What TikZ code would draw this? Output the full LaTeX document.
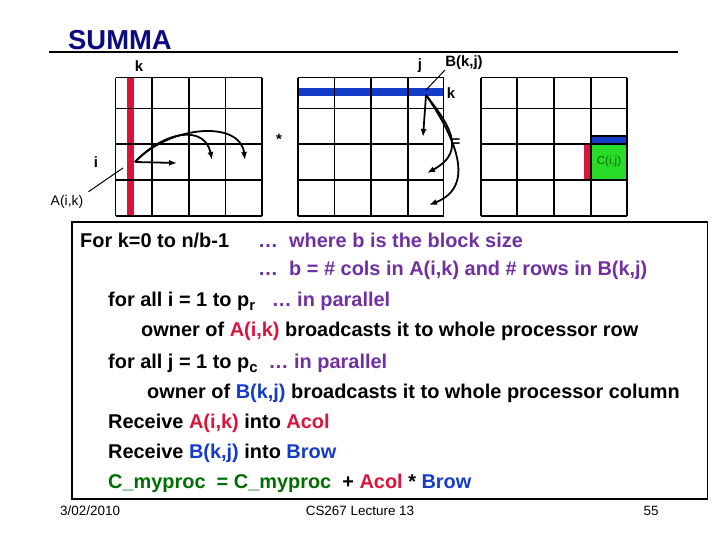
\documentclass[tikz,border=0pt]{standalone}
\usepackage{fontspec}
\usetikzlibrary{arrows.meta}
\setmainfont{Liberation Sans}
\definecolor{pur}{RGB}{112,48,160}
\definecolor{rd}{RGB}{220,20,60}
\definecolor{bl}{RGB}{20,60,200}
\definecolor{gr}{RGB}{0,110,0}
\definecolor{navy}{RGB}{10,10,130}
\definecolor{cgreen}{RGB}{40,220,40}
\begin{document}
\begin{tikzpicture}[x=1bp,y=-1bp,
  lbl/.style={inner sep=0pt,font=\bfseries\fontsize{15}{17}\selectfont},
  line/.style={anchor=west,inner sep=0pt,font=\bfseries\fontsize{20}{23}\selectfont},
  foot/.style={inner sep=0pt,font=\fontsize{13.5}{15}\selectfont},
  arr/.style={-{Latex[length=8pt,width=6pt]},line width=1.8pt}]
\useasboundingbox (0,0) rectangle (720,540);
% title
\node[anchor=west,inner sep=0pt,text=navy,font=\bfseries\fontsize{27.5}{30}\selectfont] (title) at (68,40) {SUMMA};
\draw[line width=3pt] (49,52) -- (678,52);
% fills
\fill[rd] (127,77.7) rectangle (134,216);
\fill[bl] (298,87.7) rectangle (443.6,96);
\fill[cgreen] (591,144) rectangle (627,180);
\fill[bl] (591,136) rectangle (627,144);
\fill[rd] (583.5,144) rectangle (591,180);
% grids
\foreach \x in {115.6,152,189,225.5,262} \draw[line width=1.5pt] (\x,77.7) -- (\x,216);
\foreach \x in {298,334.6,371,408,443.6} \draw[line width=1.5pt] (\x,77.7) -- (\x,216);
\foreach \x in {481,517,554,591,627} \draw[line width=1.5pt] (\x,77.7) -- (\x,216);
\foreach \y in {77.7,108.3,144,180,216} {
  \draw[line width=1.5pt] (115.6,\y) -- (262,\y);
  \draw[line width=1.5pt] (298,\y) -- (443.6,\y);
  \draw[line width=1.5pt] (481,\y) -- (627,\y);}
\draw[line width=1.5pt] (591,136) rectangle (627,144);
% labels
\node[lbl] (lk) at (139,66) {k};
\node[lbl] (lj) at (420,66) {j};
\node[lbl] (lB) at (464,63) {B(k,j)};
\node[lbl] (lk2) at (451,93) {k};
\node[lbl] (star) at (279,139) {*};
\node[lbl] (eq) at (456,143) {=};
\node[lbl] (li) at (96,162) {i};
\node[inner sep=0pt,font=\fontsize{14}{16}\selectfont] (lA) at (67,202) {A(i,k)};
\node[inner sep=0pt,text=green!40!black,font=\fontsize{11.5}{13}\selectfont] (lC) at (609,162) {C(i,j)};
% pointers
\coordinate (pa) at (123,168); \coordinate (pb) at (426,90);
\draw[line width=1pt] (pa) -- (88.5,191.7);
\draw[line width=1pt] (pb) -- (445,70);
% arrows in A
\coordinate (a0) at (135,162);
\draw[arr] (a0) -- (177,163);
\draw[arr] (a0) .. controls (165,130) and (205,125) .. (212,160);
\draw[arr] (a0) .. controls (170,125) and (240,120) .. (245,160);
% arrows in B
\coordinate (b0) at (426,95);
\draw[arr] (b0) -- (423,137);
\draw[arr] (b0) .. controls (445,120) and (470,150) .. (427,173);
\draw[arr] (b0) .. controls (450,130) and (480,185) .. (429,205);
% text box
\draw[line width=1.3pt] (72,222) rectangle (707.5,499);
\node[line] (t1) at (80,240) {For k=0 to n/b-1};
\node[line,text=pur] (t1b) at (258,240) {…\ \ where b is the block size};
\node[line,text=pur] (t2) at (258,270) {…\ \ b = \# cols in A(i,k) and \# rows in B(k,j)};
\node[line] (t3) at (108,301) {for all i = 1 to p\raisebox{-4pt}{\fontsize{15}{16}\selectfont r}\ \ \ \textcolor{pur}{… in parallel}};
\node[line] (t4) at (141,331) {owner of \textcolor{rd}{A(i,k)} broadcasts it to whole processor row};
\node[line] (t5) at (108,363) {for all j = 1 to p\raisebox{-4pt}{\fontsize{15}{16}\selectfont c}\ \ \textcolor{pur}{… in parallel}};
\node[line] (t6) at (147,393) {owner of \textcolor{bl}{B(k,j)} broadcasts it to whole processor column};
\node[line] (t7) at (108,423) {Receive \textcolor{rd}{A(i,k)} into \textcolor{rd}{Acol}};
\node[line] (t8) at (108,453) {Receive \textcolor{bl}{B(k,j)} into \textcolor{bl}{Brow}};
\node[line] (t9) at (108,483) {\textcolor{gr}{C\_myproc\ \ = C\_myproc}\ \ + \textcolor{rd}{Acol} * \textcolor{bl}{Brow}};
% footer
\node[foot,anchor=west] (f1) at (60,511) {3/02/2010};
\node[foot] (f2) at (360,511) {CS267 Lecture 13};
\node[foot] (f3) at (651,511) {55};
\end{tikzpicture}
\end{document}
